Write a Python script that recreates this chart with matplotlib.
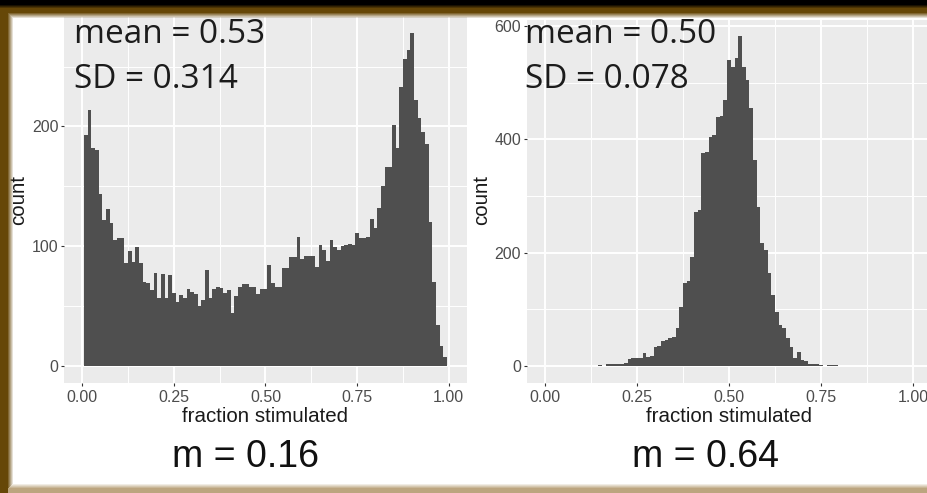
import numpy as np
import matplotlib
matplotlib.use("Agg")
import matplotlib.pyplot as plt

# ---------------------------------------------------------------- data
# histogram of "fraction stimulated", bins of width 0.01 (given by centres)
low_m_centres = np.round(np.arange(1, 100) * 0.01, 2)
low_m_counts = [
    193, 214, 182, 180, 144, 122, 131, 119, 105, 107,
    107, 86, 96, 87, 99, 86, 70, 69, 63, 78,
    57, 77, 57, 76, 61, 53, 59, 57, 64, 62,
    60, 50, 55, 80, 57, 64, 66, 65, 61, 63,
    44, 58, 66, 68, 68, 66, 66, 60, 64, 64,
    84, 69, 66, 66, 82, 82, 91, 91, 108, 89,
    92, 92, 92, 83, 101, 97, 88, 105, 99, 97,
    100, 101, 102, 101, 111, 107, 107, 108, 123, 115,
    132, 150, 166, 166, 201, 182, 233, 256, 264, 278,
    222, 207, 195, 185, 120, 70, 34, 17, 7,
]

high_m_centres = np.round(np.arange(15, 80) * 0.01, 2)
high_m_counts = [
    2, 0, 3, 3, 4, 4, 4, 5, 13, 14,
    14, 15, 23, 16, 17, 34, 36, 44, 46, 50,
    51, 67, 105, 147, 150, 193, 272, 275, 376, 378,
    405, 408, 440, 442, 470, 540, 528, 543, 582, 528,
    505, 455, 364, 281, 217, 205, 164, 125, 95, 72,
    67, 50, 34, 14, 24, 10, 8, 4, 4, 3,
    2, 0, 2, 2, 1,
]

x_ticks = [0.0, 0.25, 0.50, 0.75, 1.0]
x_tick_labels = ["0.00", "0.25", "0.50", "0.75", "1.00"]
low_y_ticks = [0, 100, 200]
high_y_ticks = [0, 200, 400, 600]

low_stats = ("mean = 0.53", "SD = 0.314", "m = 0.16")
high_stats = ("mean = 0.50", "SD = 0.078", "m = 0.64")

# ---------------------------------------------------------------- figure
W, H, DPI = 928, 493, 100
fig = plt.figure(figsize=(W / DPI, H / DPI), dpi=DPI, facecolor="white")

BAR = "#4f4f4f"
PANEL = "#ebebeb"
TICK_TXT = "#4d4d4d"
SANS = ["Liberation Sans", "DejaVu Sans"]
NOTE = ["Open Sans", "DejaVu Sans"]


def fx(x):
    return x / W


def fy(y):
    return 1 - y / H


def draw_panel(left, right, top, bottom, centres, counts, yticks, stats,
               note_x, count_x, m_x):
    ax = fig.add_axes([fx(left), fy(bottom), fx(right) - fx(left),
                       fy(top) - fy(bottom)])
    ax.set_facecolor(PANEL)
    for s in ax.spines.values():
        s.set_visible(False)

    centres = np.asarray(centres)
    edges = np.append(centres - 0.005, centres[-1] + 0.005)
    ax.stairs(counts, edges, fill=True, color=BAR, linewidth=0, zorder=3)

    ax.set_xticks(x_ticks)
    ax.set_xticklabels(x_tick_labels)
    ax.set_xticks([0.125, 0.375, 0.625, 0.875], minor=True)
    ax.set_yticks(yticks)
    ax.set_yticklabels([str(t) for t in yticks])
    step = yticks[1] - yticks[0]
    ax.set_yticks([t + step / 2 for t in yticks], minor=True)

    # limits last, so tick placement cannot widen them
    cmax = max(counts)
    ax.set_xlim(-0.05, 1.05)
    ax.set_ylim(-0.05 * cmax, 1.05 * cmax)

    ax.grid(which="major", color="white", linewidth=1.4, zorder=0)
    ax.grid(which="minor", color="white", linewidth=0.7, zorder=0)
    ax.set_axisbelow(True)
    ax.tick_params(which="major", length=2.5, width=0.8, color="#333333",
                   labelcolor=TICK_TXT, labelsize=11.5)
    ax.tick_params(axis="x", which="major", pad=2.8)
    ax.tick_params(axis="y", which="major", pad=1.4)
    ax.tick_params(which="minor", length=0)
    for lab in ax.get_xticklabels() + ax.get_yticklabels():
        lab.set_family(SANS)

    cx = (left + right) / 2
    fig.text(fx(cx), fy(421.7), "fraction stimulated", ha="center",
             va="baseline", fontsize=14.8, family=SANS, color="#1a1a1a")
    fig.text(fx(count_x), fy(200), "count", rotation=90, ha="center",
             va="center", fontsize=14.8, family=SANS, color="#1a1a1a")

    fig.text(fx(note_x), fy(43), stats[0], ha="left", va="baseline",
             fontsize=24, family=NOTE, color="#1c1c1c", zorder=20)
    fig.text(fx(note_x), fy(88), stats[1], ha="left", va="baseline",
             fontsize=24, family=NOTE, color="#1c1c1c", zorder=20)
    fig.text(fx(m_x), fy(466.7), stats[2], ha="center", va="baseline",
             fontsize=27, family=SANS, color="#111111")
    return ax


draw_panel(64, 467, 16.5, 382.5, low_m_centres, low_m_counts, low_y_ticks,
           low_stats, note_x=74, count_x=19, m_x=245)
draw_panel(526.6, 931.4, 19.8, 382.5, high_m_centres, high_m_counts,
           high_y_ticks, high_stats, note_x=525, count_x=482, m_x=706)

# ---------------------------------------------------------------- border
frame = np.zeros((H, W, 4))
brown = np.array([0.40, 0.28, 0.03])
tan = np.array([0.74, 0.65, 0.50])

# top edge: black strip fading into brown, then into the page
for y in range(0, 19):
    if y < 4:
        col, a = np.zeros(3), 1.0
    elif y < 8:
        t = (y - 4) / 4
        col, a = brown * t, 1.0
    elif y < 13:
        col, a = brown, 1.0
    else:
        col, a = brown, max(0.0, 1 - (y - 12) / 6)
    frame[y, :, :3] = col
    frame[y, :, 3] = np.maximum(frame[y, :, 3], a)

# left edge
for x in range(0, 14):
    if x < 8:
        a = 1.0
    else:
        a = max(0.0, 1 - (x - 7) / 6)
    mask = frame[:, x, 3] < a
    frame[mask, x, :3] = brown
    frame[mask, x, 3] = a

# bottom edge
for y in range(483, H):
    a = min(1.0, (y - 483) / 5)
    mask = frame[y, :, 3] < a
    frame[y, mask, :3] = tan
    frame[y, mask, 3] = a

ov = fig.add_axes([0, 0, 1, 1], zorder=15)
ov.imshow(frame, extent=(0, W, H, 0), aspect="auto", interpolation="bilinear")
ov.set_xlim(0, W)
ov.set_ylim(H, 0)
ov.axis("off")
ov.patch.set_alpha(0)

fig.savefig("out.png", dpi=DPI, facecolor="white")
